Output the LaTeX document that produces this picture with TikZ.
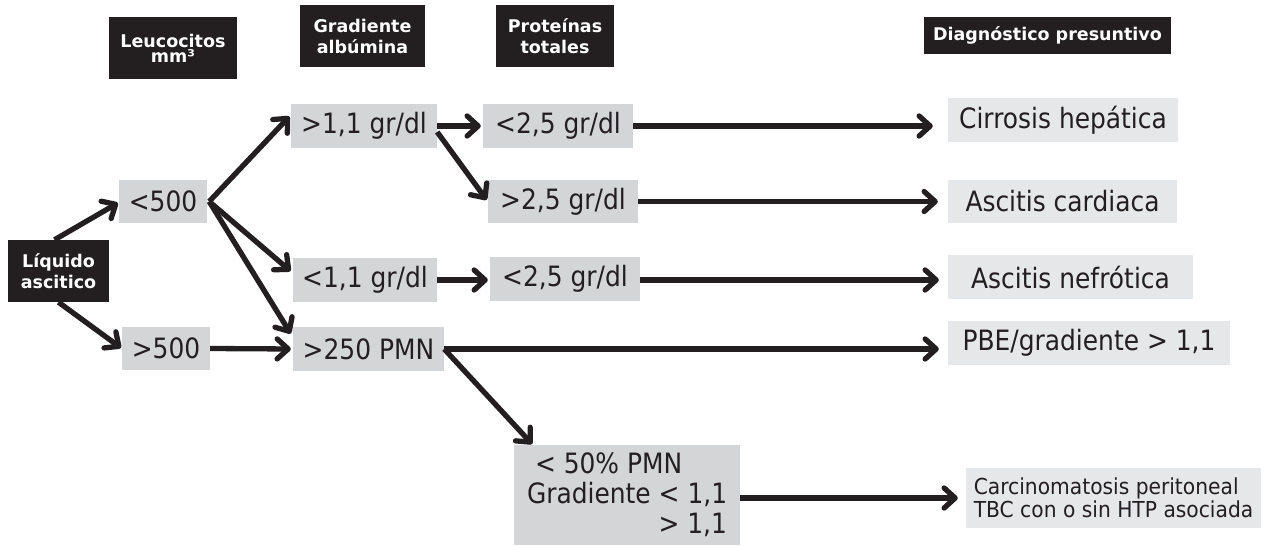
\documentclass[tikz,border=0pt]{standalone}
\usepackage{fontspec}
\setmainfont{DejaVu Sans}
\newfontfamily\condfont{DejaVu Sans}[FakeStretch=0.89]
\newfontfamily\narrowfont{DejaVu Sans}[FakeStretch=0.92]
\usetikzlibrary{arrows.meta}
\definecolor{ink}{HTML}{231F20}
\definecolor{midgray}{HTML}{D4D5D7}
\definecolor{lightgray}{HTML}{E6E7E8}
\tikzset{
  hdr/.style={fill=ink, text=white, inner sep=0pt, align=center,
    font=\fontsize{17.5}{21}\selectfont\bfseries},
  mid/.style={fill=midgray, text=ink, inner sep=0pt,
    font=\condfont\fontsize{28}{30}\selectfont},
  diag/.style={fill=lightgray, text=ink, inner sep=0pt,
    font=\condfont\fontsize{28}{30}\selectfont},
  arr/.style={draw=ink, line width=5.3pt,
    -{Straight Barb[round,length=11pt,width=20pt]}},
}
\begin{document}
\begin{tikzpicture}[x=1pt,y=-1pt]
\useasboundingbox (0,0) rectangle (1267,546);
% headers
\node[hdr, minimum width=128pt, minimum height=62pt, font=\fontsize{17.5}{15}\selectfont\bfseries] (hLeu) at (173,48) {Leucocitos\\mm³};
\node[hdr, minimum width=125pt, minimum height=62pt] (hGrad) at (362.5,36) {Gradiente\\albúmina};
\node[hdr, minimum width=118pt, minimum height=62pt] (hProt) at (555,36) {Proteínas\\totales};
\node[hdr, minimum width=247pt, minimum height=37pt] (hDiag) at (1047.5,35.5) {Diagnóstico presuntivo};
\node[hdr, minimum width=101pt, minimum height=62pt] (liq) at (58.5,271) {Líquido\\ascitico};
% middle boxes
\node[mid, minimum width=88pt, minimum height=43pt] (lt500) at (163,201.5) {<500};
\node[mid, minimum width=88pt, minimum height=43pt] (gt500) at (166,348.5) {>500};
\node[mid, minimum width=146pt, minimum height=44pt] (gt11) at (364,126) {>1,1 gr/dl};
\node[mid, minimum width=144pt, minimum height=44pt] (lt11) at (365,280) {<1,1 gr/dl};
\node[mid, minimum width=151pt, minimum height=44pt] (pmn) at (368.5,349) {>250 PMN};
\node[mid, minimum width=150pt, minimum height=44pt] (lt25a) at (558,126) {<2,5 gr/dl};
\node[mid, minimum width=150pt, minimum height=43pt] (gt25) at (563,201.5) {>2,5 gr/dl};
\node[mid, minimum width=150pt, minimum height=44pt] (lt25b) at (565,279) {<2,5 gr/dl};
\node[mid, minimum width=226pt, minimum height=100pt, align=left] (bot) at (627,495)
  {\makebox[200pt][l]{\hspace{8pt}< 50\% PMN}\\\makebox[200pt][l]{Gradiente < 1,1}\\\makebox[200pt][r]{> 1,1}};
% diagnosis boxes
\node[diag, minimum width=230pt, minimum height=44pt] (cirr) at (1063,120) {Cirrosis hepática};
\node[diag, minimum width=229pt, minimum height=43pt] (card) at (1062.5,201.5) {Ascitis cardiaca};
\node[diag, minimum width=245pt, minimum height=44pt] (nefr) at (1070.5,277) {Ascitis nefrótica};
\node[diag, minimum width=282pt, minimum height=44pt] (pbe) at (1089,343) {PBE/gradiente > 1,1};
\node[diag, minimum width=295pt, minimum height=60pt, align=left, font=\narrowfont\fontsize{22}{23}\selectfont] (carc) at (1113.5,498)
  {Carcinomatosis peritoneal\\TBC con o sin HTP asociada};
% connectors
\draw[arr, shorten >=1pt] ([xshift=-4pt]liq.north) -- ([yshift=-1pt]lt500.west);
\draw[arr, shorten >=1pt] (liq.south) -- (gt500.west);
\draw[arr, shorten >=2pt] ([xshift=2pt]lt500.east) -- ([yshift=11pt]gt11.west);
\draw[arr, shorten >=3pt] ([xshift=2pt]lt500.east) -- ([yshift=7pt]lt11.west);
\draw[arr, shorten >=4pt] ([xshift=2pt]lt500.east) -- ([yshift=12pt]pmn.west);
\draw[arr, shorten >=2pt] (gt500.east) -- (pmn.west);
\draw[arr, shorten >=2pt] (gt11.east) -- (lt25a.west);
\draw[arr, shorten >=2pt] ([yshift=-6pt]gt11.east) -- (gt25.west);
\draw[arr, shorten >=2pt] (lt11.east) -- (lt11.east -| lt25b.west);
\draw[arr, shorten >=1pt] (pmn.east) -- ([xshift=19pt]bot.north west);
\draw[arr, shorten >=15pt] (lt25a.east) -- (lt25a.east -| cirr.west);
\draw[arr, shorten >=10pt] (gt25.east) -- (gt25.east -| card.west);
\draw[arr, shorten >=9pt] ([yshift=-1pt]lt25b.east) -- ([yshift=-1pt]lt25b.east -| nefr.west);
\draw[arr, shorten >=9pt] (pmn.east) -- (pmn.east -| pbe.west);
\draw[arr, shorten >=8pt] ([yshift=-3pt]bot.east) -- ([yshift=-3pt]bot.east -| carc.west);
\end{tikzpicture}
\end{document}
